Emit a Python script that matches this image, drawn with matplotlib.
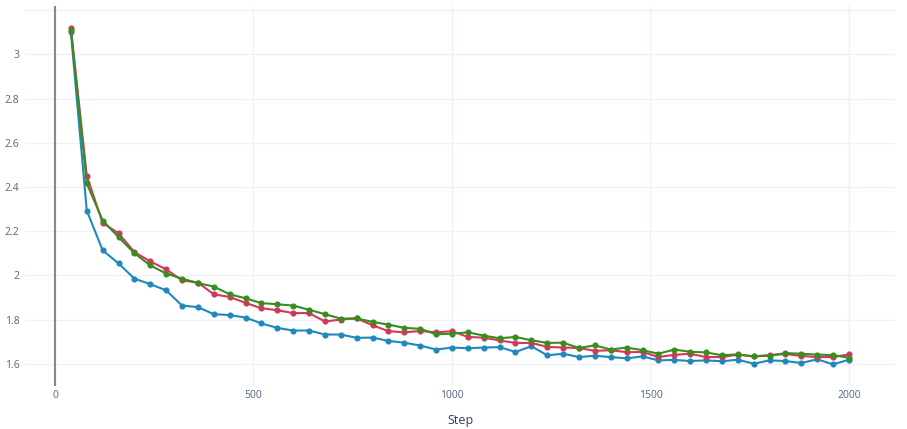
import numpy as np
import matplotlib.pyplot as plt

steps = np.arange(40, 2001, 40)

red = [3.12, 2.45, 2.237, 2.19, 2.105, 2.063, 2.027, 1.977, 1.967, 1.914,
       1.902, 1.875, 1.851, 1.842, 1.829, 1.829, 1.791, 1.80, 1.805, 1.774,
       1.747, 1.742, 1.748, 1.742, 1.747, 1.721, 1.718, 1.705, 1.694, 1.694,
       1.676, 1.673, 1.671, 1.658, 1.661, 1.652, 1.653, 1.63, 1.640, 1.645,
       1.63, 1.63, 1.641, 1.633, 1.639, 1.644, 1.635, 1.63, 1.63, 1.642]
green = [3.11, 2.416, 2.248, 2.173, 2.10, 2.045, 2.008, 1.985, 1.965, 1.949,
         1.914, 1.896, 1.874, 1.869, 1.863, 1.844, 1.824, 1.804, 1.805, 1.789,
         1.777, 1.762, 1.758, 1.733, 1.736, 1.742, 1.727, 1.715, 1.721, 1.706,
         1.694, 1.695, 1.671, 1.683, 1.664, 1.673, 1.661, 1.645, 1.664, 1.654,
         1.651, 1.638, 1.642, 1.633, 1.636, 1.648, 1.645, 1.641, 1.639, 1.627]
blue = [3.10, 2.293, 2.113, 2.054, 1.985, 1.96, 1.932, 1.863, 1.856, 1.824,
        1.82, 1.809, 1.782, 1.762, 1.75, 1.75, 1.732, 1.732, 1.717, 1.718,
        1.703, 1.695, 1.682, 1.664, 1.673, 1.67, 1.673, 1.675, 1.653, 1.679,
        1.638, 1.645, 1.63, 1.636, 1.63, 1.624, 1.633, 1.615, 1.617, 1.612,
        1.615, 1.611, 1.618, 1.60, 1.615, 1.612, 1.603, 1.62, 1.597, 1.618]

W, H = 907, 429
fig = plt.figure(figsize=(W / 100, H / 100), dpi=100)
ax = fig.add_axes([25 / W, (H - 386) / H, (895 - 25) / W, (386 - 6) / H])

grid_c = '#eef2f8'
tick_c = '#506784'

ax.plot(steps, blue, color='#1f88bd', marker='o', markersize=3.4, linewidth=1.5, zorder=3)
ax.plot(steps, red, color='#d3385a', marker='o', markersize=3.4, linewidth=1.5, zorder=3)
ax.plot(steps, green, color='#3a8c1f', marker='o', markersize=3.4, linewidth=1.5, zorder=4)

ax.set_xlim(-75.6, 2116)
ax.set_ylim(1.499, 3.219)
ax.set_xticks([0, 500, 1000, 1500, 2000])
ax.set_yticks([1.6, 1.8, 2.0, 2.2, 2.4, 2.6, 2.8, 3.0, 3.2])
ax.set_yticklabels(['1.6', '1.8', '2', '2.2', '2.4', '2.6', '2.8', '3', ''])

ax.grid(True, color=grid_c, linewidth=1, zorder=0)
ax.axvline(0, color='#888888', linewidth=1.5, zorder=2)
for s in ax.spines.values():
    s.set_visible(False)

ax.tick_params(length=0, labelsize=7.5, labelcolor=tick_c)
ax.tick_params(axis='x', pad=3)
ax.tick_params(axis='y', pad=4)
for lab in ax.get_xticklabels() + ax.get_yticklabels():
    lab.set_fontfamily('Open Sans')

ax.set_xlabel('Step', fontsize=9, color='#2a3f5f', fontfamily='Open Sans', labelpad=9)

fig.savefig('out.png', dpi=100, facecolor='white')
